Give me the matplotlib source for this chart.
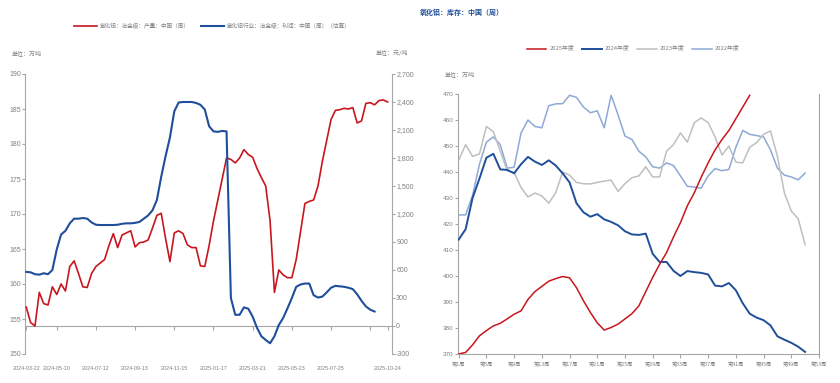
import numpy as np
import pandas as pd
import matplotlib
matplotlib.use("Agg")
import matplotlib.pyplot as plt
from matplotlib.ticker import FuncFormatter, MultipleLocator

# ---------------- data ----------------
start_date = "2024-03-22"
prod_values = [
    156.7, 154.5, 154.0, 158.8, 157.2, 157.0, 159.6, 158.5, 160.0, 159.0,
    162.5, 163.3, 161.5, 159.6, 159.5, 161.5, 162.5, 163.0, 163.5, 165.5,
    167.2, 165.2, 167.0, 167.3, 167.6, 165.3, 165.9, 166.0, 166.3, 168.0,
    169.8, 170.1, 166.5, 163.2, 167.3, 167.6, 167.2, 165.6, 165.2, 165.2,
    162.6, 162.5, 165.5, 169.0, 172.0, 175.0, 178.0, 177.8, 177.3, 178.0,
    179.2, 178.5, 178.1, 176.5, 175.2, 174.0, 169.0, 158.8, 162.0, 161.3,
    160.9, 160.9, 163.5, 167.5, 171.5, 171.8, 172.0, 174.0, 177.5, 180.5,
    183.5, 184.8, 184.9, 185.1, 185.0, 185.2, 183.0, 183.3, 185.8, 185.9,
    185.6, 186.2, 186.3, 186.0,
]
profit_values = [
    580, 575, 555, 550, 565, 555, 600, 820, 980, 1020,
    1100, 1150, 1150, 1157, 1150, 1110, 1085, 1082, 1082, 1082,
    1082, 1085, 1095, 1100, 1100, 1105, 1115, 1150, 1185, 1240,
    1350, 1600, 1820, 2020, 2300, 2395, 2400, 2400, 2400, 2390,
    2370, 2320, 2140, 2085, 2080, 2090, 2085, 300, 120, 120,
    200, 185, 100, -20, -110, -150, -185, -110, 10, 86,
    190, 300, 420, 445, 455, 455, 330, 305, 315, 360,
    410, 430, 425, 420, 410, 395, 340, 270, 210, 175,
    155,
]
left_ticks = ["2024-03-22", "2024-05-10", "2024-07-12", "2024-09-13", "2024-11-15",
              "2025-01-17", "2025-03-21", "2025-05-23", "2025-07-25", "2025-09-26", "2025-10-24"]
left_tick_labels = ["2024-03-22", "2024-05-10", "2024-07-12", "2024-09-13", "2024-11-15",
                    "2025-01-17", "2025-03-21", "2025-05-23", "2025-07-25", "", "2025-10-24"]

inv_2025 = [
    370.0, 370.6, 373.5, 377.0, 379.0, 380.8, 381.8, 383.5, 385.3, 386.6,
    391.0, 394.0, 396.0, 398.0, 399.0, 399.8, 399.3, 395.5, 390.5, 386.0,
    382.0, 379.2, 380.2, 381.5, 383.5, 385.5, 388.5, 394.0, 399.5, 404.5,
    409.0, 415.0, 420.5, 427.0, 432.0, 438.0, 443.5, 448.5, 452.5, 456.0,
    460.5, 465.0, 469.5,
]
inv_2024 = [
    414.0, 418.0, 430.0, 437.5, 445.5, 447.0, 441.0, 440.8, 439.5, 443.0,
    445.8, 444.0, 442.7, 444.5, 442.5, 439.5, 436.0, 428.0, 424.5, 422.8,
    423.8, 421.8, 420.8, 419.5, 417.2, 416.0, 415.8, 416.3, 408.5, 405.4,
    405.4, 402.0, 400.0, 401.9, 401.5, 401.2, 400.6, 396.3, 396.0, 397.3,
    394.5, 389.5, 385.5, 384.0, 383.0, 381.0, 376.8, 375.5, 374.3, 372.8,
    370.8,
]
inv_2023 = [
    444.6, 450.5, 446.0, 447.0, 457.5, 455.5, 448.0, 440.5, 439.8, 434.0,
    430.4, 431.9, 430.8, 428.0, 432.0, 440.0, 438.8, 436.0, 435.5, 435.4,
    436.0, 436.5, 436.9, 432.5, 435.5, 437.8, 438.5, 442.0, 438.1, 438.1,
    448.0, 450.5, 455.0, 451.5, 459.0, 460.8, 459.0, 453.5, 446.5, 450.0,
    443.8, 443.5, 449.5, 451.3, 454.5, 455.8, 446.0, 432.0, 425.0, 422.0,
    412.0,
]
inv_2022 = [
    423.5, 423.5, 431.0, 443.0, 451.5, 453.5, 450.5, 441.5, 441.8, 455.0,
    460.0, 457.5, 457.0, 465.5, 466.2, 466.3, 469.5, 468.7, 465.0, 462.8,
    463.5, 457.0, 469.5, 462.0, 453.8, 452.5, 448.0, 445.8, 442.0, 441.5,
    443.5, 442.5, 438.5, 434.5, 434.2, 433.8, 438.5, 441.3, 440.5, 441.0,
    449.5, 456.0, 454.5, 454.0, 453.5, 448.5, 441.5, 438.8, 438.1, 437.0,
    439.6,
]
week_ticks = list(range(1, 54, 4))
week_labels = [f"第{w}周" for w in week_ticks]
series_names = ["2025年度", "2024年度", "2023年度", "2022年度"]

# ---------------- style ----------------
plt.rcParams["font.family"] = ["Noto Sans CJK SC", "DejaVu Sans"]
num_family = ["Liberation Sans", "Noto Sans CJK SC"]

RED = "#C8161E"
BLUE = "#1F4E9A"
GRAY = "#BFBFBF"
LBLUE = "#8EA9D6"
AXC = "#A6A6A6"
TXT = "#808080"

fig = plt.figure(figsize=(8.4, 3.83), dpi=100)

# ---------------- left chart ----------------
dates_p = pd.date_range(start_date, periods=len(prod_values), freq="7D")
dates_f = pd.date_range(start_date, periods=len(profit_values), freq="7D")

ax = fig.add_axes([25/840, 1-354/383, 367/840, 280/383])
ax2 = ax.twinx()
l1, = ax.plot(dates_p, prod_values, color=RED, lw=1.2, zorder=3)
l2, = ax2.plot(dates_f, profit_values, color=BLUE, lw=1.5, zorder=3)
ax.set_ylim(150, 190)
ax2.set_ylim(-300, 2700)
ax.set_xlim(pd.Timestamp("2024-03-20"), pd.Timestamp("2025-10-31"))
ax.yaxis.set_major_locator(MultipleLocator(5))
ax2.yaxis.set_major_locator(MultipleLocator(300))
ax2.yaxis.set_major_formatter(FuncFormatter(lambda v, p: f"{int(v):,}"))
ax.set_xticks([pd.Timestamp(d) for d in left_ticks])
ax.set_xticklabels(left_tick_labels)
ax.spines["top"].set_visible(False)
ax2.spines["top"].set_visible(False)
ax2.spines["left"].set_visible(False)
ax2.spines["bottom"].set_visible(False)
ax.spines["right"].set_visible(False)
ax.spines["bottom"].set_position(("data", 154))
for sp in [ax.spines["left"], ax.spines["bottom"], ax2.spines["right"]]:
    sp.set_color(AXC)
    sp.set_linewidth(0.8)
ax.tick_params(axis="x", colors=AXC, length=3, width=0.8, pad=26, labelcolor=TXT, labelsize=3.9)
ax.tick_params(axis="y", colors=AXC, length=2, width=0.8, labelcolor=TXT, labelsize=5, pad=1)
ax2.tick_params(axis="y", colors=AXC, length=2, width=0.8, labelcolor=TXT, labelsize=5, pad=1)
for t in ax.get_xticklabels() + ax.get_yticklabels() + ax2.get_yticklabels():
    t.set_family(num_family)

fig.legend([l1, l2], ["氧化铝：冶金级：产量：中国（周）", "氧化铝行业：冶金级：利润：中国（周）（估算）"],
           loc="center", bbox_to_anchor=(212/840, 1-26/383), ncol=2, frameon=False,
           fontsize=4.1, handlelength=4.0, handletextpad=0.5, columnspacing=2.0, labelcolor=TXT)
fig.text(12/840, 1-53/383, "单位：万吨", fontsize=4.3, color=TXT, va="center", ha="left")
fig.text(408/840, 1-53/383, "单位：元/吨", fontsize=4.3, color=TXT, va="center", ha="right")

# ---------------- right chart ----------------
bx = fig.add_axes([458/840, 1-354/383, 361/840, 260/383])
weeks = lambda arr: np.arange(1, len(arr) + 1)
h4, = bx.plot(weeks(inv_2022), inv_2022, color=LBLUE, lw=1.1, zorder=2)
h3, = bx.plot(weeks(inv_2023), inv_2023, color=GRAY, lw=1.1, zorder=2)
h2, = bx.plot(weeks(inv_2024), inv_2024, color=BLUE, lw=1.4, zorder=3)
h1, = bx.plot(weeks(inv_2025), inv_2025, color=RED, lw=1.1, zorder=4)
bx.set_xlim(0.9, 53)
bx.set_ylim(370, 470)
bx.yaxis.set_major_locator(MultipleLocator(10))
bx.set_xticks(week_ticks)
bx.set_xticklabels(week_labels)
bx.spines["top"].set_visible(False)
for s in ["left", "bottom", "right"]:
    bx.spines[s].set_color(AXC)
    bx.spines[s].set_linewidth(0.8)
bx.tick_params(axis="x", colors=AXC, length=3, width=0.8, labelcolor=TXT, labelsize=3.8, pad=3)
bx.tick_params(axis="y", colors=AXC, length=2, width=0.8, labelcolor=TXT, labelsize=4.6, pad=1)
for t in bx.get_yticklabels():
    t.set_family(num_family)

fig.legend([h1, h2, h3, h4], series_names, loc="center", bbox_to_anchor=(633/840, 1-49/383),
           ncol=4, frameon=False, fontsize=4.2, handlelength=3.4, handletextpad=0.5,
           columnspacing=1.3, labelcolor=TXT)
fig.text(445/840, 1-74/383, "单位：万吨", fontsize=4.3, color=TXT, va="center", ha="left")
fig.text(420/840, 1-12/383, "氧化铝：库存：中国（周）", fontsize=5, color=BLUE,
         fontweight="bold", va="center", ha="left")

fig.savefig("out.png", dpi=100)
